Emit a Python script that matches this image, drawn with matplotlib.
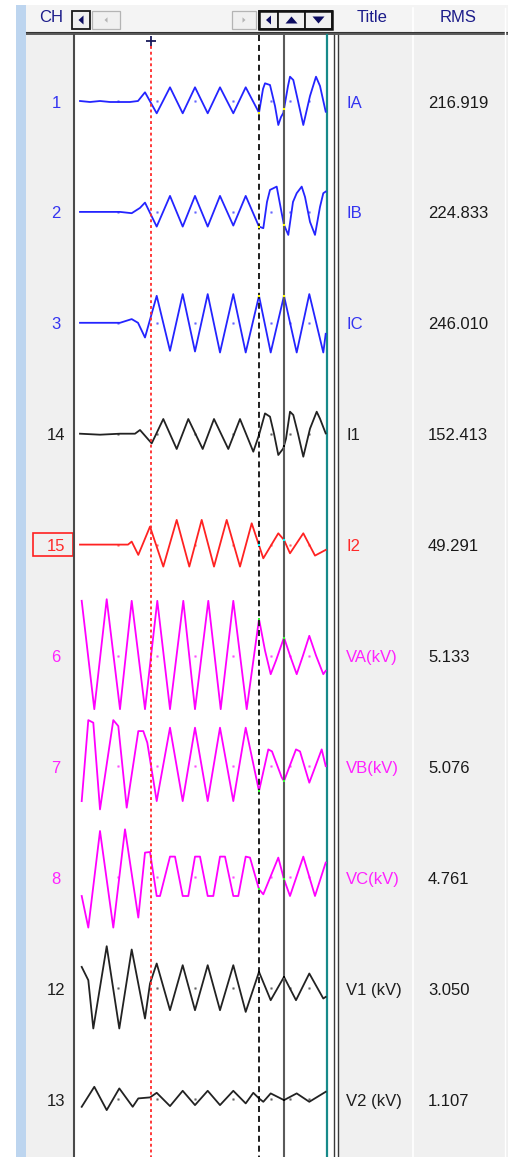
import numpy as np
import matplotlib.pyplot as plt
from matplotlib.patches import Rectangle, Polygon
from matplotlib import transforms

plt.rcParams['font.family'] = ['Liberation Sans', 'DejaVu Sans']

# channel table as shown on the recorder screen
ch_numbers = ['1', '2', '3', '14', '15', '6', '7', '8', '12', '13']
ch_titles = ['IA', 'IB', 'IC', 'I1', 'I2', 'VA(kV)', 'VB(kV)', 'VC(kV)', 'V1 (kV)', 'V2 (kV)']
ch_rms = [216.919, 224.833, 246.010, 152.413, 49.291, 5.133, 5.076, 4.761, 3.050, 1.107]
selected_ch = '15'

# trace samples (sample position, deflection)
ia_t = [80, 90, 100, 110, 120, 130, 138, 145, 156.7, 170, 182.7, 195, 207.7, 220, 233.3, 245.7,
        259, 263, 265, 270, 275, 278.3, 281, 283.3, 288, 290, 293.3, 298, 303.3, 310, 316, 320, 325.7]
ia_v = [0, -1, 0, -1, -1, -1, 0, 8.7, -12.3, 13.7, -12.3, 13.7, -12.3, 13.7, -12.3, 13.7,
        -11.7, 12, 17.7, 16, -5, -24, -16, -12, 15, 24.3, 21, 0, -24, 5, 24.3, 15, -10.7]

ib_t = [80, 100, 120, 131.7, 140, 145, 156.7, 170, 182.7, 195, 207.7, 220, 233.3, 245.7, 259, 263.3,
        267, 270, 276.7, 281.7, 284, 288.3, 293, 296.7, 301.7, 305, 310, 315, 320, 323.3, 325.7]
ib_v = [0, 0, 0, -1.3, 4, 9.3, -14.7, 16, -14.7, 16, -14.7, 16, -13.7, 16, -14.7, -16.3,
        10, 22, 25.3, -1.3, -13, -23, 10, 18.7, 25.3, 15, -10, -23, 5, 18.7, 20.3]

ic_t = [80, 100, 120, 131.7, 138, 145, 156.7, 170, 182.7, 195, 207.7, 220, 233.3, 245.7, 259,
        270.7, 284, 296.7, 309.3, 323.3, 325.7]
ic_v = [0, 0, 0, 3.7, 0, -14.7, 27, -28, 28.7, -28.7, 28.7, -29.7, 28.7, -29.7, 27,
        -29.7, 27, -29.7, 28.7, -29.7, -11]

i1_t = [80, 100, 120, 135, 140, 151.7, 163.3, 176.7, 188.3, 202.7, 214, 228.3, 240, 253.3, 259, 265,
        270, 274, 278.3, 283.3, 286, 290, 293.3, 298, 303.3, 310, 316.7, 320, 325.7]
i1_v = [0, -1, 0, 0, 3.7, -9.7, 14.7, -15.3, 14.7, -15.3, 14.7, -15.3, 14.7, -18, -1.3, 20.3,
        17, 0, -21.3, -14.7, -5, 22, 18.7, 0, -23, 5, 22, 15, 0.3]

i2_t = [80, 100, 120, 128, 131.7, 138.3, 150, 163.3, 176.7, 189.3, 201.7, 214, 226.7, 240, 251.7,
        263.3, 278.3, 284, 290, 303.3, 315, 325.7]
i2_v = [0, 0, 0, 0, 3, -10.3, 18, -22, 24.7, -22, 24.7, -22, 24.7, -22, 21.3,
        -13.7, 11.3, 4.7, -8.7, 11.3, -11, -5.3]

va_t = [81.7, 94.3, 106.7, 120, 131.7, 145, 157.3, 170, 183.3, 195, 208.3, 220.7, 233.3, 246.7,
        259, 260, 265, 270.7, 276, 284, 290, 296.7, 303, 309.3, 316, 323.3, 325.7]
va_v = [54.7, -53.7, 56.3, -53.7, 54.7, -53.7, 54.7, -53.7, 54.7, -53.7, 54.7, -53.7, 54.7, -53.7,
        36.3, 31.3, 5, -18.7, -5, 18, 0, -18.7, 0, 19.7, 0, -18.7, -15.3]

vb_t = [81.7, 88.3, 93.3, 100, 113.3, 118.3, 126.7, 138.3, 143.3, 147.3, 156.7, 170, 182.7, 195,
        207.7, 220, 233.3, 245.7, 259, 268.3, 272, 281.7, 284, 296, 300, 309.3, 321.7, 325.7]
vb_v = [-34.7, 46.3, 43.7, -43, 46.3, 40.3, -41.3, 35.3, 35.3, 23.7, -34.7, 38.7, -34.7, 38.7,
        -34.7, 38.7, -34.7, 38.7, -24.7, 17, 15, -11, -14.7, 17, 15, -16.3, 17, 0.3]

vc_t = [81.7, 88.3, 100, 113.3, 125, 138.3, 145, 150, 156.7, 160, 170, 175, 182.7, 188.3, 195, 200,
        207.7, 213.3, 220, 225, 233.3, 238.3, 245.7, 250, 259, 263.3, 278.3, 284, 290, 303.3, 315, 325.7]
vc_v = [-18.7, -50.3, 46.3, -50.3, 48, -40.3, 24.7, 25.3, -18.7, -18.7, 20.7, 20.7, -18.7, -18.7, 20.7, 20.7,
        -18.7, -18.7, 20.7, 20.7, -18.7, -18.7, 20.7, 19.7, -12, -17, 19.7, -2, -18.7, 20.7, -18.7, 14.7]

v1_t = [81.7, 88.3, 93.3, 106.7, 119.3, 131.7, 145, 150, 156.7, 170, 182.7, 195, 207.7, 220, 233.3,
        245.7, 259, 270.7, 284, 296, 309.3, 323.3, 325.7]
v1_v = [21.3, 8, -40.3, 42, -40.3, 38.7, -30.3, 4.7, 24.7, -22, 23, -22, 23, -22, 23,
        -23.7, 16.3, -12, 11.3, -12, 14.7, -10.3, -8.7]

v2_t = [81.7, 94.3, 106.7, 119.3, 132.7, 138.3, 150, 156.7, 170, 182.7, 195, 207.7, 220, 233.3,
        245.7, 253.3, 259, 263.3, 270.7, 284, 296.7, 309.3, 325.7]
v2_v = [-7.7, 12.3, -11, 10.7, -7.7, 0.7, 1.7, 6.3, -7, 8.3, -6, 8.3, -6, 8.3,
        -4.3, 6.3, 0.7, -2.7, 5.7, -1, 5.7, -2.7, 7.3]

traces = [(ia_t, ia_v), (ib_t, ib_v), (ic_t, ic_v), (i1_t, i1_v), (i2_t, i2_v),
          (va_t, va_v), (vb_t, vb_v), (vc_t, vc_v), (v1_t, v1_v), (v2_t, v2_v)]

# cursor positions (same sample axis as the traces)
cursor_fault = 151
cursor_a = 259
cursor_b = 284
grid_dots = [118, 157, 195, 233, 271, 290, 309]

# colours
BLUE, BLACK, RED, MAG = '#2424ff', '#222222', '#ff2222', '#ff00ff'
trace_colors = [BLUE, BLUE, BLUE, BLACK, RED, MAG, MAG, MAG, BLACK, BLACK]
label_colors = ['#3434f0', '#3434f0', '#3434f0', '#1e1e1e', '#ff2a2a',
                '#ff22ff', '#ff22ff', '#ff22ff', '#1e1e1e', '#1e1e1e']
mark_colors = ['#ffff00', '#ffff00', '#ffff00', '#000000', '#00ffff',
               '#33ff33', '#33ff33', '#33ff33', '#000000', '#000000']

W, H = 508, 1157
fig = plt.figure(figsize=(W / 100, H / 100), dpi=100)
fig.patch.set_facecolor('#f0f0f0')

bg = fig.add_axes([0, 0, 1, 1])
bg.set_xlim(0, W)
bg.set_ylim(H, 0)
bg.axis('off')


def px_axes(x0, y0, x1, y1, z):
    ax = fig.add_axes([x0 / W, 1 - y1 / H, (x1 - x0) / W, (y1 - y0) / H])
    ax.set_zorder(z)
    ax.axis('off')
    return ax


# window chrome
bg.add_patch(Rectangle((0, 0), W, 5, fc='white', lw=0))
bg.add_patch(Rectangle((0, 0), 16, H, fc='white', lw=0))
bg.add_patch(Rectangle((16, 5), 10, H - 5, fc='#bdd5ef', lw=0))
bg.add_patch(Rectangle((26, 5), W - 26, 27, fc='#f4f4f4', lw=0))
bg.add_patch(Rectangle((75, 35), 252, H - 35, fc='white', lw=0))
bg.add_patch(Rectangle((328, 35), 11, H - 35, fc='white', lw=0))
bg.add_patch(Rectangle((26, 31.5), W - 26, 3.5, fc='#5c5c5c', lw=0))
bg.plot([26, W], [32.3, 32.3], color='#333333', lw=0.8)
bg.plot([74, 74], [35, H], color='#4a4a4a', lw=1.5)
bg.plot([327, 327], [35, H], color='#178a8a', lw=1.6)
bg.plot([333.5, 333.5], [35, H], color='#3a3a3a', lw=1.0)
bg.plot([338.3, 338.3], [35, H], color='#3a3a3a', lw=1.0)
bg.plot([413, 413], [8, 31], color='white', lw=1.2)
bg.plot([413, 413], [36, H], color='white', lw=1.2)
bg.plot([505, 505], [8, H], color='white', lw=1.0)


def button(x0, x1, kind, enabled):
    edge = '#1a1a1a' if enabled else '#b4b4b4'
    fill = '#0c0c60' if enabled else '#b4b4b4'
    bg.add_patch(Rectangle((x0, 11), x1 - x0, 18, fc='#f0f0f0', ec=edge,
                           lw=1.3 if enabled else 0.9))
    cx, cy = (x0 + x1) / 2, 20
    s = 1.0 if enabled else 0.6
    if kind == 'left':
        pts = [(cx - 2.5 * s, cy), (cx + 2.5 * s, cy - 4.5 * s), (cx + 2.5 * s, cy + 4.5 * s)]
    elif kind == 'right':
        pts = [(cx + 2.5 * s, cy), (cx - 2.5 * s, cy - 4.5 * s), (cx - 2.5 * s, cy + 4.5 * s)]
    elif kind == 'up':
        pts = [(cx - 6, cy + 3.5), (cx + 6, cy + 3.5), (cx, cy - 3.5)]
    else:
        pts = [(cx - 6, cy - 3.5), (cx + 6, cy - 3.5), (cx, cy + 3.5)]
    bg.add_patch(Polygon(pts, closed=True, fc=fill, ec='none'))


button(72, 90, 'left', True)
button(92, 120, 'left', False)
button(232, 256, 'right', False)
button(259, 278, 'left', True)
button(278, 305, 'up', True)
button(305, 332, 'down', True)
bg.add_patch(Rectangle((259, 11), 73, 18, fill=False, ec='#111111', lw=1.8))

hdr = dict(color='#1c1c8a', fontsize=12, ha='center', va='center')
bg.text(51, 18, 'CH', **hdr)
bg.text(372, 18, 'Title', **hdr)
bg.text(458, 18, 'RMS', **hdr)

# cursor layer on top of the traces
cur = px_axes(74, 35, 327, H, 3)
cur.set_xlim(74, 327)
cur.set_ylim(H, 35)

row_gap = 110.9
half = row_gap / 2
for i, (t, v) in enumerate(traces):
    yc = 101 + row_gap * i
    ax = px_axes(74, yc - half, 327, yc + half, 2)
    ax.set_xlim(74, 327)
    ax.set_ylim(-half, half)
    ax.plot(grid_dots, np.zeros(len(grid_dots)), ls='', marker='s', ms=0.9,
            color=trace_colors[i], alpha=0.45)
    ax.plot(t, v, color=trace_colors[i], lw=1.3, clip_on=False, solid_joinstyle='round')

    # marks where the trace crosses the two time cursors
    tr = transforms.blended_transform_factory(cur.transData, ax.transData)
    for c in (cursor_a, cursor_b):
        cur.plot([c], [np.interp(c, t, v)], ls='', marker='s', ms=1.8, mew=0,
                 color=mark_colors[i], transform=tr, clip_on=False, zorder=5)

    ly = yc + 2
    if ch_numbers[i] == selected_ch:
        bg.add_patch(Rectangle((32.5, yc - 11.2), 40, 22.5, fill=False, ec='#ff2020', lw=1.2))
    bg.text(56, ly, ch_numbers[i], color=label_colors[i], fontsize=12, ha='center', va='center')
    bg.text(346, ly, ch_titles[i], color=label_colors[i], fontsize=12, ha='left', va='center')
    bg.text(428, ly, '%.3f' % ch_rms[i], color='#1a1a1a', fontsize=12, ha='left', va='center')

cur.plot([cursor_fault, cursor_fault], [46, H], color='#ff2a2a', lw=1.3, dashes=(1.6, 1.6))
cur.plot([cursor_fault + 0.5], [41], marker='+', ms=7, mew=1.3, color='#1a1a5a', clip_on=False)
cur.plot([cursor_a, cursor_a], [35, H], color='#1e1e1e', lw=1.4, dashes=(3.1, 2.0))
cur.plot([cursor_b, cursor_b], [35, H], color='#5a5a5a', lw=1.5)

plt.savefig('out.png', dpi=100, facecolor=fig.get_facecolor())
